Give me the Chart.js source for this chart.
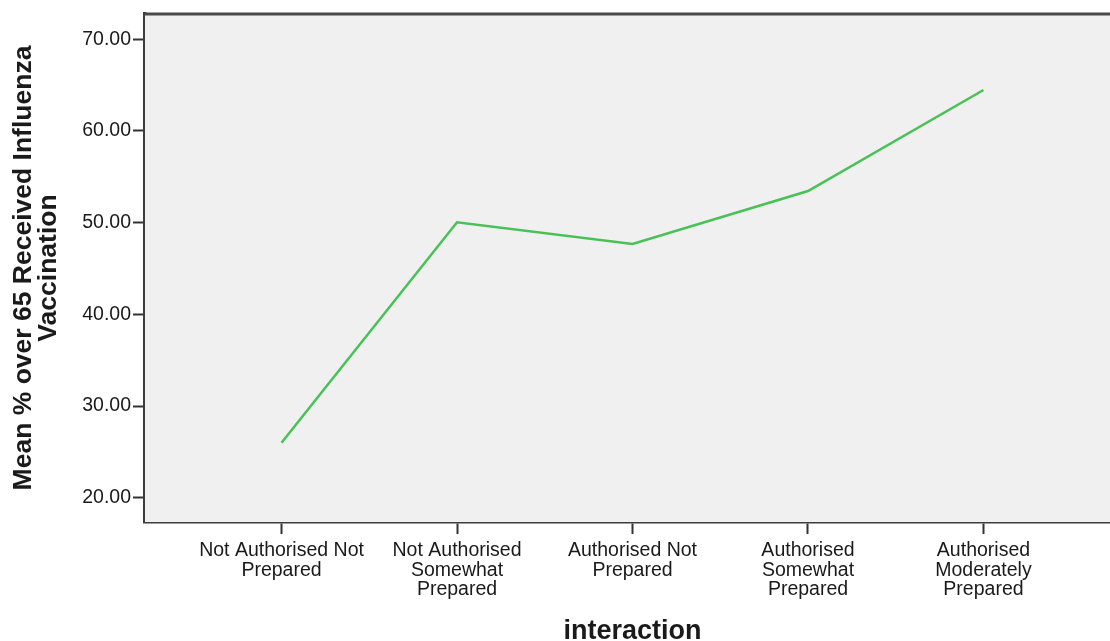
<!DOCTYPE html>
<html>
<head>
<meta charset="utf-8">
<script src="https://cdn.jsdelivr.net/npm/chart.js@4/dist/chart.umd.min.js"></script>
<style>
    html, body { margin: 0; padding: 0; background: #fff; overflow: hidden; }
    #wrap { width: 1130px; height: 660px; }
</style>
</head>
<body>
<div id="wrap"><canvas id="chart"></canvas></div>
<script>
// category labels, split into the lines shown under each tick
const categories = [
    ['Not Authorised Not', 'Prepared'],
    ['Not Authorised', 'Somewhat', 'Prepared'],
    ['Authorised Not', 'Prepared'],
    ['Authorised', 'Somewhat', 'Prepared'],
    ['Authorised', 'Moderately', 'Prepared']
];
const meanValues = [26.0, 50.04, 47.67, 53.45, 64.47];
const yTicks = [20, 30, 40, 50, 60, 70];

Chart.defaults.font.family = '"Liberation Sans", Arial, sans-serif';
Chart.defaults.color = '#1a1a1a';

// plot box: grey fill and the top frame line
const plotBox = {
    id: 'plotBox',
    beforeDatasetsDraw(chart) {
        const { ctx, chartArea: a } = chart;
        ctx.save();
        ctx.fillStyle = '#f0f0f0';
        ctx.fillRect(a.left, a.top, a.right - a.left, a.bottom - a.top);
        ctx.strokeStyle = '#4a4a4a';
        ctx.lineWidth = 3;
        ctx.beginPath();
        ctx.moveTo(a.left, a.top);
        ctx.lineTo(a.right, a.top);
        ctx.stroke();
        ctx.restore();
    }
};

new Chart(document.getElementById('chart'), {
    type: 'line',
    data: {
        datasets: [{
            data: meanValues.map((v, i) => ({ x: i, y: v })),
            borderColor: '#48c157',
            borderWidth: 2.5,
            pointRadius: 0,
            tension: 0
        }]
    },
    options: {
        responsive: true,
        maintainAspectRatio: false,
        animation: false,
        layout: { padding: { top: 14, right: 10, left: 0, bottom: 0 } },
        plugins: { legend: { display: false }, tooltip: { enabled: false } },
        scales: {
            x: {
                type: 'linear',
                min: -0.778,
                max: 4.778,
                afterBuildTicks: s => { s.ticks = categories.map((c, i) => ({ value: i })); },
                afterFit: s => { s.height = 138; },
                grid: { drawOnChartArea: false, drawTicks: true, tickLength: 12, tickWidth: 2, tickColor: '#333' },
                border: { display: true, color: '#3d3d3d', width: 3.5 },
                ticks: {
                    autoSkip: false,
                    maxRotation: 0,
                    padding: 7,
                    font: { size: 19.5, lineHeight: 1.0 },
                    callback: v => categories[v]
                },
                title: {
                    display: true,
                    text: 'interaction',
                    font: { size: 27, weight: 'bold', lineHeight: 1.0 },
                    padding: { top: 0, bottom: 15 }
                }
            },
            y: {
                min: 17.35,
                max: 72.76,
                afterBuildTicks: s => { s.ticks = yTicks.map(v => ({ value: v })); },
                afterFit: s => { s.width = 145; },
                grid: { drawOnChartArea: false, drawTicks: true, tickLength: 12, tickWidth: 2, tickColor: '#333' },
                border: { display: true, color: '#3d3d3d', width: 3.5 },
                ticks: {
                    padding: 2,
                    font: { size: 19.5 },
                    callback: v => v.toFixed(2)
                },
                title: {
                    display: true,
                    text: ['Mean % over 65 Received Influenza', 'Vaccination'],
                    font: { size: 26.5, weight: 'bold', lineHeight: 0.943 },
                    padding: { top: 11, bottom: 0 }
                }
            }
        }
    },
    plugins: [plotBox]
});
</script>
</body>
</html>
